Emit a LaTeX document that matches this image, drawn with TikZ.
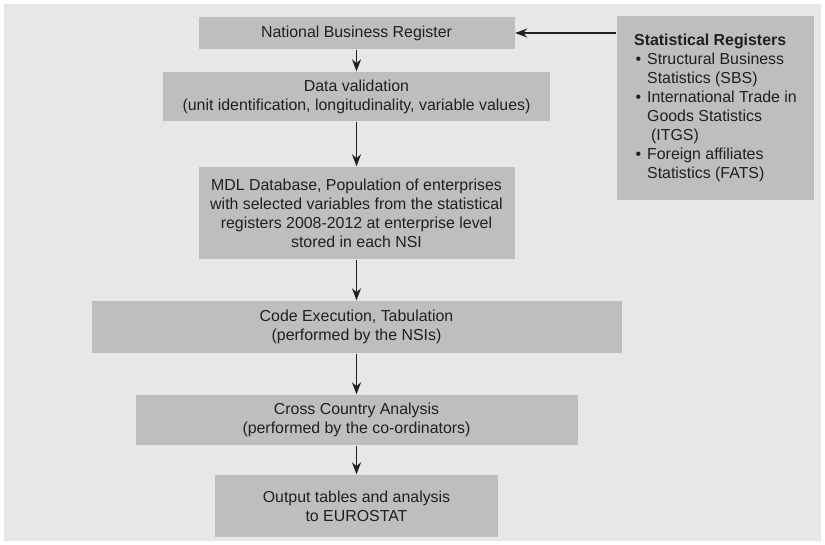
\documentclass[tikz,border=0pt]{standalone}
\usepackage{fontspec}
\setmainfont{Liberation Sans}
\usetikzlibrary{arrows.meta}

\definecolor{panelgrey}{HTML}{E6E7E8}
\definecolor{boxgrey}{HTML}{BCBEC0}
\definecolor{inkgrey}{HTML}{231F20}

\newcommand{\regbullet}{\hspace*{1.5pt}\makebox[11.5pt][l]{\textbullet}}

\tikzset{
  stage/.style={fill=boxgrey, text=inkgrey, align=center, inner sep=0pt,
                font=\fontsize{15.9}{19}\selectfont},
}

\begin{document}
\begin{tikzpicture}[x=1pt, y=-1pt, ->, >={Stealth[length=12pt,width=9pt]},
                    line width=1.4pt, color=inkgrey]
  \useasboundingbox (0,0) rectangle (825,544);
  \fill[panelgrey] (4,4) rectangle (821,541);

  \node[stage, minimum width=316pt, minimum height=32pt] (NBR)    at (356.5,33)  {National Business Register};
  \node[stage, minimum width=387pt, minimum height=49pt] (DV)     at (356.5,96.5) {Data validation\\(unit identification, longitudinality, variable values)};
  \node[stage, minimum width=316pt, minimum height=92pt] (MDL)    at (356.5,213) {MDL Database, Population of enterprises\\with selected variables from the statistical\\registers 2008-2012 at enterprise level\\stored in each NSI};
  \node[stage, minimum width=530pt, minimum height=52pt] (Code)   at (356.5,327) {Code Execution, Tabulation\\(performed by the NSIs)};
  \node[stage, minimum width=442pt, minimum height=50pt] (Cross)  at (356.5,420) {Cross Country Analysis\\(performed by the co-ordinators)};
  \node[stage, minimum width=283pt, minimum height=62pt] (Output) at (356.5,506) {Output tables and analysis\\to EUROSTAT};
  \node[stage, align=left, minimum width=197pt, minimum height=184pt] (SR) at (715.5,108)
    {\textbf{Statistical Registers}\\
     \regbullet Structural Business\\
     \hspace*{13pt}Statistics (SBS)\\
     \regbullet International Trade in\\
     \hspace*{13pt}Goods Statistics\\
     \hspace*{17pt}(ITGS)\\
     \regbullet Foreign affiliates\\
     \hspace*{13pt}Statistics (FATS)};

  \path (NBR)   edge (DV)
        (DV)    edge (MDL)
        (MDL)   edge (Code)
        (Code)  edge (Cross)
        (Cross) edge (Output)
        (NBR.east -| SR.west) edge (NBR.east);
\end{tikzpicture}
\end{document}
